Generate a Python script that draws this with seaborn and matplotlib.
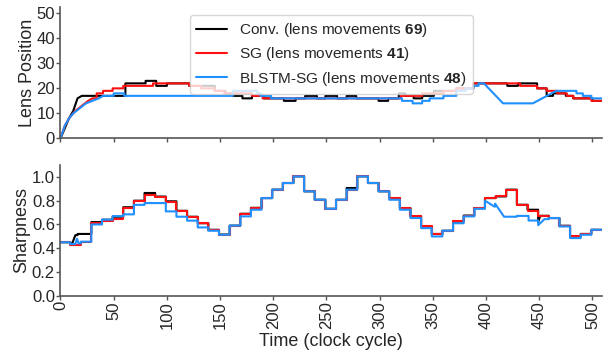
import matplotlib
matplotlib.use("Agg")
import matplotlib.pyplot as plt
import seaborn as sns
import pandas as pd

# ---- lens position (upper panel): knot times and held values --------------
conv_pos_t = [0, 4, 8, 12, 16, 20, 61, 80, 90, 100, 121, 145, 155, 162, 171, 180,
              191, 210, 221, 230, 241, 249, 260, 269, 278, 299, 308, 318, 324, 332,
              340, 351, 372, 388, 420, 430, 448, 457, 463, 475, 482, 500, 509]
conv_pos = [0, 4, 8, 11, 16, 17, 22, 23, 21, 22, 21, 19, 18, 17, 16, 17,
            16, 15, 16, 17, 16, 17, 16, 17, 16, 15, 16, 18, 17, 16,
            17, 19, 20, 22, 21, 22, 20, 17, 18, 17, 16, 15, 15]
conv_pos_ramps = [0, 4, 8, 12, 16]

sg_pos_t = [0, 4, 8, 14, 20, 26, 30, 34, 40, 49, 59, 87, 121, 132, 145, 154, 180,
            190, 320, 340, 360, 372, 388, 432, 448, 457, 467, 476, 482, 499, 509]
sg_pos = [0, 5, 8, 11, 13, 15, 16, 18, 19, 20, 21, 22, 21, 20, 19, 18, 17,
          16, 17, 18, 19, 20, 22, 21, 20, 19, 18, 17, 16, 15, 15]
sg_pos_ramps = [0, 4, 8, 14, 20, 26]

blstm_pos_t = [0, 4, 8, 12, 18, 24, 30, 36, 40, 50, 60, 162, 185, 188, 198, 321,
               331, 340, 347, 360, 372, 381, 388, 393, 398, 416, 444, 466, 485,
               491, 499, 509]
blstm_pos = [0, 5, 8, 10, 12, 14, 15, 16, 17, 18, 17, 19, 18, 17, 16, 15,
             14, 15, 16, 17, 19, 20, 21, 22, 22, 14, 14, 19, 18,
             17, 16, 16]
blstm_pos_ramps = [0, 4, 8, 12, 18, 24, 30, 36, 398, 444]

# ---- sharpness (lower panel) -----------------------------------------------
conv_sharp_t = [0, 9, 11, 14, 16, 29, 39, 49, 59, 69, 79, 89, 99, 109, 119, 129,
                139, 149, 159, 169, 179, 189, 199, 209, 219, 229, 239, 249, 259,
                269, 279, 289, 299, 309, 319, 329, 339, 349, 359, 369, 379, 389,
                399, 409, 419, 429, 439, 449, 451, 459, 469, 479, 489, 499, 509]
conv_sharp = [0.45, 0.44, 0.44, 0.51, 0.52, 0.62, 0.64, 0.665, 0.745, 0.80, 0.865,
              0.835, 0.795, 0.715, 0.665, 0.61, 0.555, 0.515, 0.59, 0.69, 0.74,
              0.822, 0.893, 0.949, 1.005, 0.879, 0.808, 0.732, 0.808, 0.907, 1.005,
              0.949, 0.879, 0.822, 0.738, 0.668, 0.583, 0.52, 0.547, 0.625, 0.675,
              0.738, 0.822, 0.836, 0.893, 0.766, 0.724, 0.62, 0.673, 0.654, 0.589,
              0.499, 0.52, 0.555, 0.555]
conv_sharp_ramps = [11, 449]

sg_sharp_t = [0, 9, 19, 29, 39, 49, 59, 69, 79, 89, 99, 109, 119, 129, 139, 149,
              159, 169, 179, 189, 199, 209, 219, 229, 239, 249, 259, 269, 279, 289,
              299, 309, 319, 329, 339, 349, 359, 369, 379, 389, 399, 409, 419, 429,
              439, 449, 459, 469, 479, 489, 499, 509]
sg_sharp = [0.45, 0.43, 0.45, 0.61, 0.63, 0.65, 0.74, 0.80, 0.85, 0.83, 0.79, 0.715,
            0.665, 0.61, 0.555, 0.51, 0.59, 0.69, 0.74, 0.822, 0.893, 0.949, 1.005,
            0.879, 0.808, 0.732, 0.808, 0.893, 1.005, 0.949, 0.879, 0.822, 0.738,
            0.668, 0.583, 0.52, 0.547, 0.625, 0.675, 0.738, 0.822, 0.836, 0.893,
            0.766, 0.715, 0.673, 0.654, 0.589, 0.499, 0.52, 0.555, 0.555]
sg_sharp_ramps = []

blstm_sharp_t = [0, 9, 14, 15.5, 17, 19, 29, 39, 49, 59, 69, 79, 89, 99, 109, 119,
                 129, 139, 149, 159, 169, 179, 189, 199, 209, 219, 229, 239, 249,
                 259, 269, 279, 289, 299, 309, 319, 329, 339, 349, 359, 369, 379,
                 389, 399, 408, 408.5, 417, 429, 440, 449, 455, 459, 469, 479, 489,
                 499, 509]
blstm_sharp = [0.45, 0.435, 0.435, 0.48, 0.44, 0.455, 0.60, 0.64, 0.67, 0.685, 0.765,
               0.78, 0.78, 0.71, 0.665, 0.632, 0.575, 0.547, 0.513, 0.59, 0.668,
               0.724, 0.822, 0.893, 0.949, 1.005, 0.879, 0.808, 0.732, 0.808, 0.893,
               1.005, 0.949, 0.879, 0.808, 0.724, 0.654, 0.569, 0.499, 0.547, 0.61,
               0.668, 0.732, 0.80, 0.75, 0.775, 0.665, 0.672, 0.633, 0.594, 0.645,
               0.654, 0.583, 0.485, 0.513, 0.555, 0.555]
blstm_sharp_ramps = [14, 15.5, 399, 408.5, 449]

legend_labels = ["Conv. (lens movements $\\mathbf{69}$)",
                 "SG (lens movements $\\mathbf{41}$)",
                 "BLSTM-SG (lens movements $\\mathbf{48}$)"]
colors = ["#000000", "#ff1010", "#1e90ff"]
x_ticks = [0, 50, 100, 150, 200, 250, 300, 350, 400, 450, 500]


def trace(t, v, ramps):
    """Hold each value until the next knot (step), or draw a straight
    segment to it when the knot time is listed in ramps."""
    assert len(t) == len(v)
    xs, ys = [t[0]], [v[0]]
    for i in range(1, len(t)):
        if t[i - 1] in ramps:
            xs.append(t[i]); ys.append(v[i])
        else:
            xs += [t[i], t[i]]; ys += [v[i - 1], v[i]]
    return pd.DataFrame({"t": xs, "v": ys})


sns.set_theme(style="white")
plt.rcParams["font.family"] = ["Liberation Sans", "DejaVu Sans"]
plt.rcParams["mathtext.fontset"] = "custom"
plt.rcParams["mathtext.rm"] = "Liberation Sans"
plt.rcParams["mathtext.bf"] = "Liberation Sans:bold"

fig = plt.figure(figsize=(6.08, 3.52), dpi=100)
ax1 = fig.add_axes([0.0995, 0.607, 0.8906, 0.372])
ax2 = fig.add_axes([0.0995, 0.160, 0.8906, 0.371])

pos_series = [(conv_pos_t, conv_pos, conv_pos_ramps),
              (sg_pos_t, sg_pos, sg_pos_ramps),
              (blstm_pos_t, blstm_pos, blstm_pos_ramps)]
sharp_series = [(conv_sharp_t, conv_sharp, conv_sharp_ramps),
                (sg_sharp_t, sg_sharp, sg_sharp_ramps),
                (blstm_sharp_t, blstm_sharp, blstm_sharp_ramps)]

for (t, v, r), lab, c in zip(pos_series, legend_labels, colors):
    sns.lineplot(data=trace(t, v, r), x="t", y="v", sort=False, estimator=None,
                 color=c, lw=1.5, label=lab, ax=ax1)
for (t, v, r), c in zip(sharp_series, colors):
    sns.lineplot(data=trace(t, v, r), x="t", y="v", sort=False, estimator=None,
                 color=c, lw=1.5, ax=ax2)

for ax in (ax1, ax2):
    sns.despine(ax=ax)
    for s in ("left", "bottom"):
        ax.spines[s].set_color("#555555")
        ax.spines[s].set_linewidth(1.2)
    ax.set_xlim(0, 509)
    ax.set_xticks(x_ticks)
    ax.tick_params(axis="both", direction="out", length=3, width=1,
                   color="#555555", labelsize=12, pad=1, bottom=True, left=True)

ax1.set_ylim(0, 52.4)
ax1.set_yticks([0, 10, 20, 30, 40, 50])
ax1.set_xticklabels([])
ax1.set_xlabel("")
ax1.set_ylabel("Lens Position", fontsize=13, labelpad=0)

ax2.set_ylim(0, 1.1)
ax2.set_yticks([0.0, 0.2, 0.4, 0.6, 0.8, 1.0])
ax2.set_yticklabels(["0.0", "0.2", "0.4", "0.6", "0.8", "1.0"])
ax2.set_xticklabels([str(x) for x in x_ticks], rotation=90)
ax2.set_xlabel("Time (clock cycle)", fontsize=13, labelpad=3)
ax2.set_ylabel("Sharpness", fontsize=13, labelpad=1)

leg = ax1.legend(loc="upper left", bbox_to_anchor=(0.239, 0.941), borderaxespad=0,
                 fontsize=11.1, frameon=True, framealpha=0.8, edgecolor="#cccccc",
                 handlelength=2.0, labelspacing=0.4)
leg.get_frame().set_linewidth(1.0)

fig.savefig("out.png", dpi=100)
